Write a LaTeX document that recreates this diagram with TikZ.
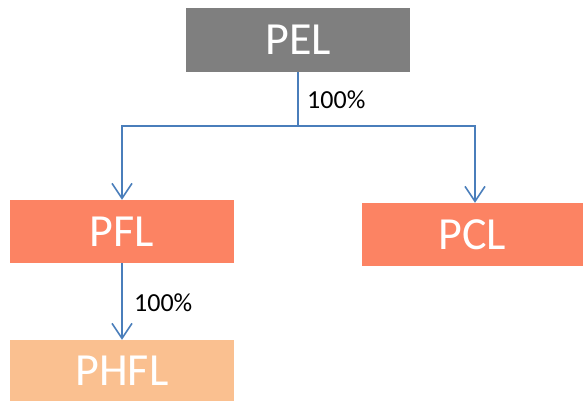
\documentclass[tikz,border=0pt]{standalone}
\usepackage{fontspec}
\setmainfont{Carlito}
\usetikzlibrary{arrows.meta}
\definecolor{pelgray}{HTML}{7F7F7F}
\definecolor{coral}{HTML}{FC8363}
\definecolor{peach}{HTML}{FAC090}
\definecolor{connblue}{HTML}{4A7EBB}
\tikzset{
  box/.style={rectangle, inner sep=0pt, draw=none, text=white,
    font=\fontsize{46}{46}\selectfont},
  conn/.style={draw=connblue, line width=1.6pt},
  arr/.style={conn, -{Straight Barb[length=15pt,width=20pt,line width=1.6pt]}},
  pct/.style={anchor=west, inner sep=0pt, font=\fontsize{26}{26}\selectfont, text=black}
}
\begin{document}
\begin{tikzpicture}[x=1pt,y=-1pt]
\useasboundingbox (0,0) rectangle (583,401);
\node[box, fill=pelgray, minimum width=224pt, minimum height=64pt] (PEL) at (298,40) {PEL};
\node[box, fill=coral, minimum width=224pt, minimum height=63pt] (PFL) at (122,231.5) {PFL};
\node[box, fill=coral, minimum width=221pt, minimum height=63pt] (PCL) at (472.5,234.5) {PCL};
\node[box, fill=peach, minimum width=224pt, minimum height=61pt] (PHFL) at (122,370.5) {PHFL};
\coordinate (hub) at (298,126);
\coordinate (rc) at (475,126);
\draw[conn] (PEL.south) -- (hub);
\draw[arr] (hub) -| (PFL.north);
\draw[arr] (hub) -- (rc) -- (rc |- PCL.north);
\draw[arr] (PFL.south) -- (PHFL.north);
\node[pct] (l1) at (307,100) {100\%};
\node[pct] (l2) at (134,303) {100\%};
\end{tikzpicture}
\end{document}
